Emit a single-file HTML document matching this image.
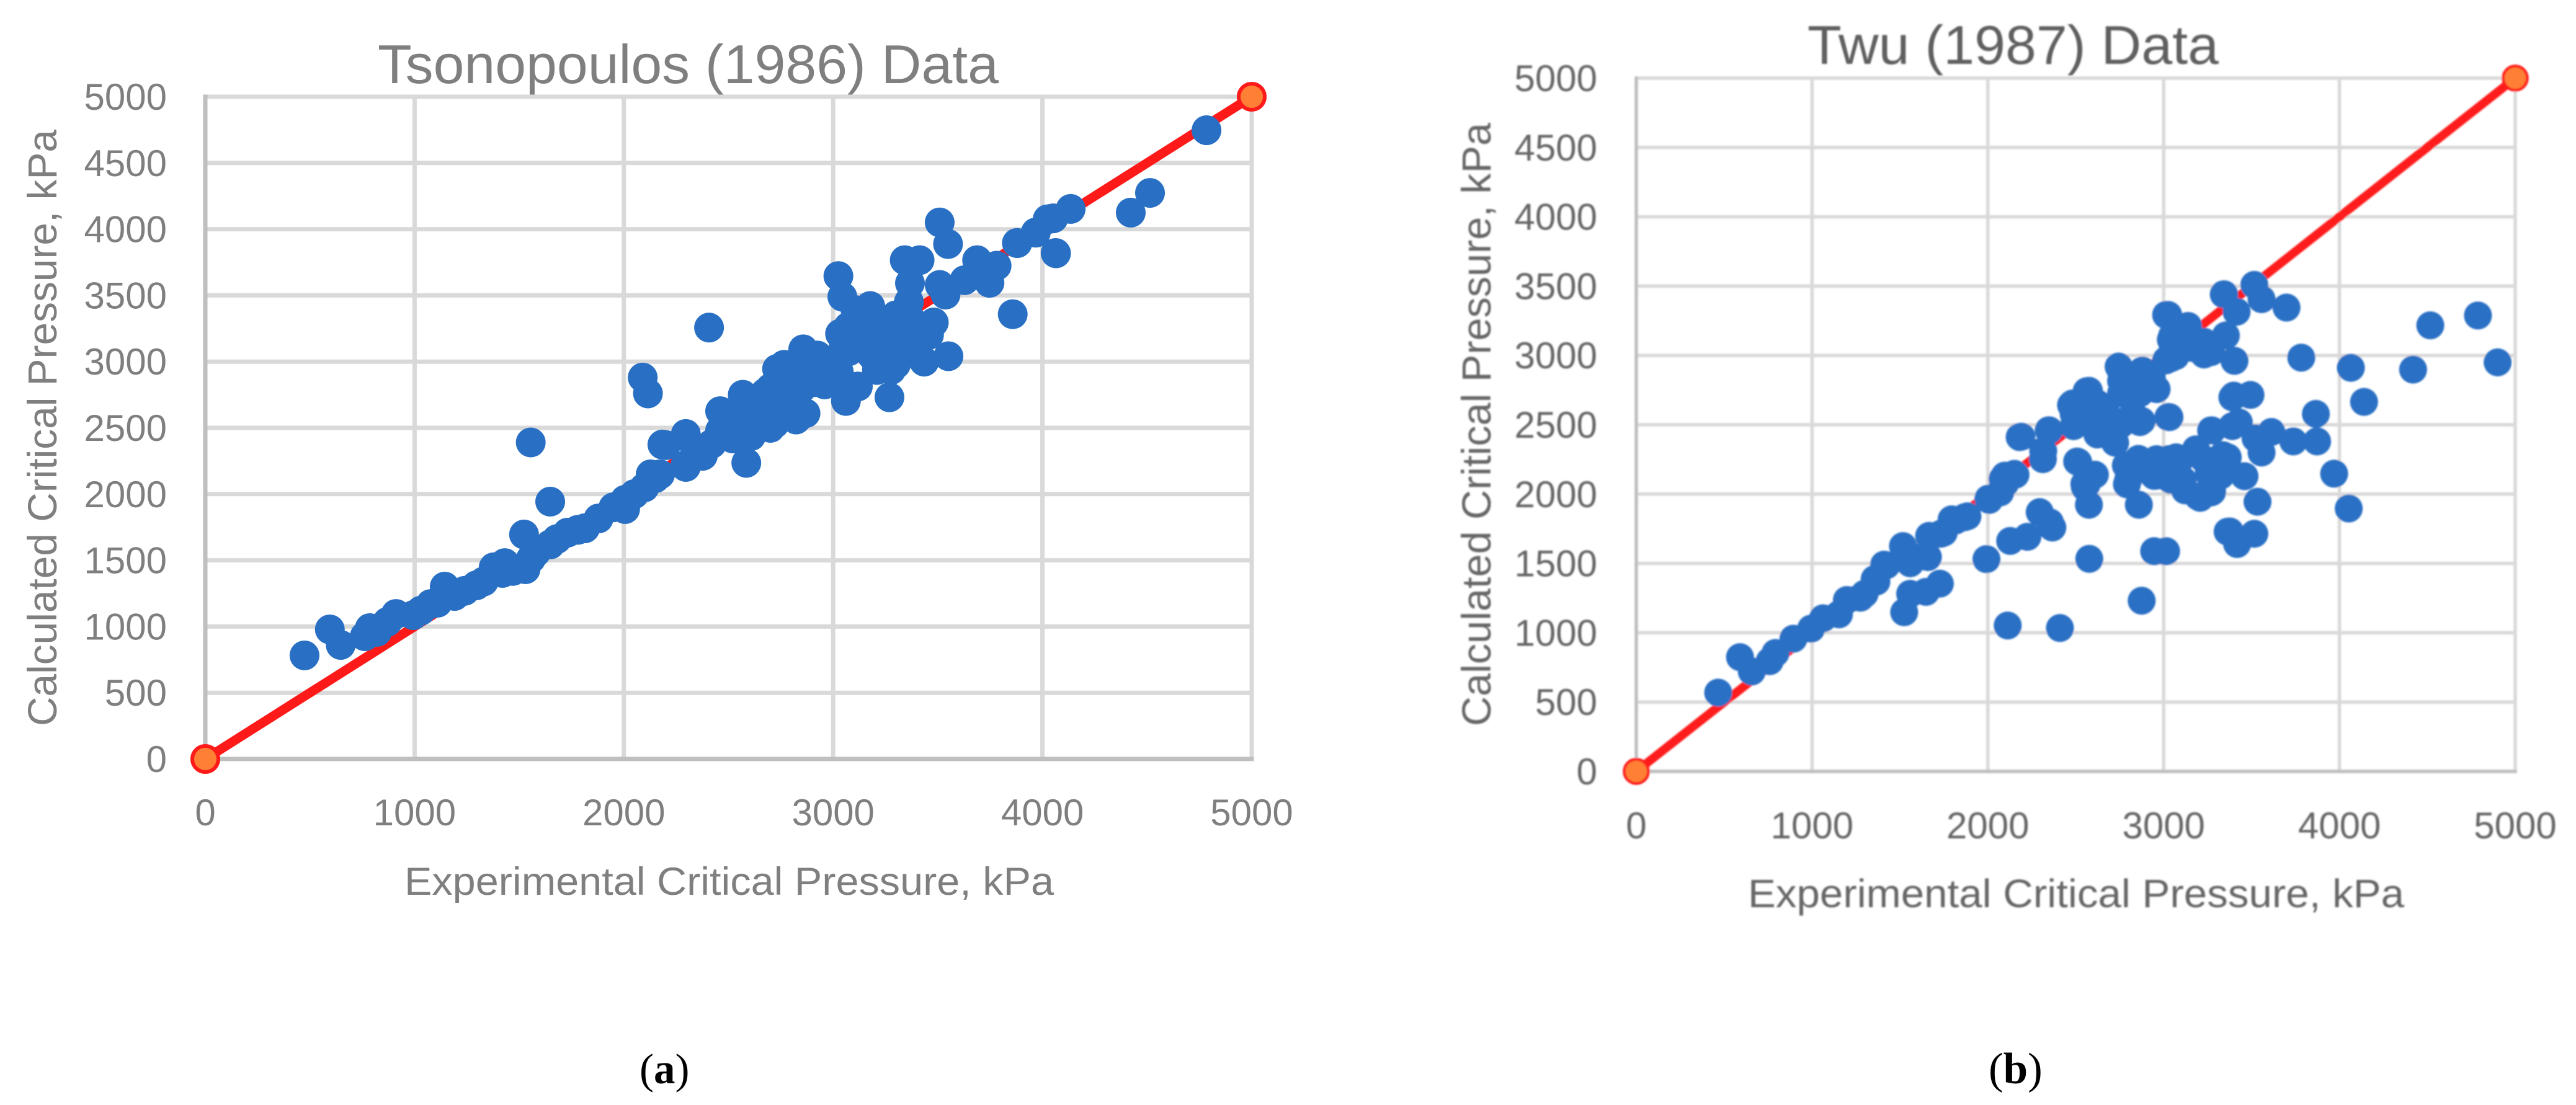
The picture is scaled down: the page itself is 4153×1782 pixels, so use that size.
<!DOCTYPE html>
<html lang="en">
<head>
<meta charset="utf-8">
<title>Calculated vs Experimental Critical Pressure</title>
<style>
html,body{margin:0;padding:0;background:#fff;}
svg{display:block;}
text{font-family:"Liberation Sans",sans-serif;}
</style>
</head>
<body>
<svg id="figure" xmlns="http://www.w3.org/2000/svg" width="4153" height="1782" viewBox="0 0 4153 1782">
  <defs>
    <filter id="soft" x="-5%" y="-5%" width="110%" height="110%"><feGaussianBlur stdDeviation="1.3"/></filter>
  </defs>
  <rect x="0" y="0" width="4153" height="1782" fill="#ffffff"/>

  <g id="panelA">
    <g id="panelA-grid"></g>
    <g id="panelA-marks"></g>
    <g id="panelA-ticks"></g>
    <text x="609" y="134" font-size="88" fill="#7f7f7f" textLength="1001" lengthAdjust="spacingAndGlyphs">Tsonopoulos (1986) Data</text>
    <text x="652" y="1443" font-size="63" fill="#7f7f7f" textLength="1047" lengthAdjust="spacingAndGlyphs">Experimental Critical Pressure, kPa</text>
    <text transform="rotate(-90 91 1171)" x="91" y="1171" font-size="66" fill="#7f7f7f" textLength="962" lengthAdjust="spacingAndGlyphs">Calculated Critical Pressure, kPa</text>
  </g>

  <g id="panelB" filter="url(#soft)">
    <g id="panelB-grid"></g>
    <g id="panelB-marks"></g>
    <g id="panelB-ticks"></g>
    <text x="2914" y="103" font-size="88" fill="#5f5f5f" textLength="663" lengthAdjust="spacingAndGlyphs">Twu (1987) Data</text>
    <text x="2818" y="1463" font-size="64" fill="#666666" textLength="1058" lengthAdjust="spacingAndGlyphs">Experimental Critical Pressure, kPa</text>
    <text transform="rotate(-90 2403 1171)" x="2403" y="1171" font-size="66" fill="#666666" textLength="973" lengthAdjust="spacingAndGlyphs">Calculated Critical Pressure, kPa</text>
  </g>

  <text x="1031" y="1747" style="font-family:'Liberation Serif',serif" font-size="69" fill="#000000">(<tspan font-weight="bold">a</tspan>)</text>
  <text x="3206" y="1747" style="font-family:'Liberation Serif',serif" font-size="71" fill="#000000">(<tspan font-weight="bold">b</tspan>)</text>
</svg>

<script>
// Axis tick values
const xTickValues = [0, 1000, 2000, 3000, 4000, 5000];
const yTickValues = [0, 500, 1000, 1500, 2000, 2500, 3000, 3500, 4000, 4500, 5000];

// Parity (y = x) reference line
const parityX = [0, 5000];
const parityY = [0, 5000];

// Tsonopoulos (1986) data
const tsonoExperimental = [474,595,647,762,786,870,911,994,1077,1144,1191,1295,1378,1420,1431,1523,1530,1556,1648,1648,1731,1814,1879,2006,2006,2090,2115,1555,2407,2098,2128,2173,2184,2294,2294,2377,2460,3509,3549,3342,3413,3688,3781,3878,3968,4025,4065,3858,3747,3628,3509,3537,3367,3362,3025,3044,3177,3107,3254,3367,3481,3458,3033,2857,2925,2766,2732,2738,3435,3551,3277,3209,3061,3118,3027,2959,3269,2568,2642,2494,2460,2585,2608,2721,2823,2868,2375,2296,2296,3129,3243,3356,3186,3073,3005,2868,2789,2676,2732,2619,2506,2562,2676,2789,2902,2823,3186,3299,3073,4135,4052,3968,3880,4063,4422,4514,4784,820,1030,1110,1240,1330,1470,1580,1680,1780,1950,2050,2150,2200,2350,2420,2460,2520,2560,2600,2650,2700,2700,2800,2850,2900,2950,3000,3150,3250,3320,3400,3420,3300,3350,3050,3100,3200,3300];
const tsonoCalculated = [782,978,861,927,988,1035,1095,1086,1170,1301,1231,1311,1447,1405,1479,1695,1433,1512,1620,1943,1709,1742,1816,1887,1957,2880,2760,2390,3257,2050,2149,2149,2374,2434,2219,2289,2626,4051,3888,3766,3766,3766,3724,3896,3974,4075,3818,3358,3595,3615,3579,3506,3592,3451,3646,3490,3420,3389,3296,3327,3296,3202,3210,3093,3046,2976,2945,2828,3000,3041,2937,2937,2703,2812,2921,2828,2731,2750,2727,2602,2469,2236,2438,2532,2563,2610,2298,2205,2454,3171,3140,3155,3046,3077,3015,2968,2875,2766,2688,2610,2485,2532,2610,2688,2844,2844,3233,3233,3264,4153,4082,3975,3895,3820,4125,4274,4747,960,1120,1180,1270,1340,1420,1560,1660,1730,1900,2000,2120,2370,2300,2380,2480,2420,2640,2500,2650,2500,2800,2650,2800,2950,2950,2900,3100,3050,3050,3100,3220,3350,3400,3150,3250,3300,2980];

// Twu (1987) data
const twuExperimental = [466,590,657,759,792,894,995,1062,1153,1198,1299,1366,1423,1524,1558,1659,1670,1749,1817,1884,1992,2008,2098,1524,1558,1648,1727,2113,2410,2875,2577,2946,3014,2127,2225,2295,2353,2367,3364,3418,2575,2562,2603,2508,2859,2791,2859,3054,3196,3270,3122,3188,2946,2151,2084,2003,2070,1868,1794,1666,1733,1517,1639,1558,1410,1356,1275,2181,2346,2313,2097,2562,2481,2744,2879,2960,2865,3027,3014,3041,3135,3041,3270,3344,3391,3391,3270,2724,2623,2677,2555,2488,2758,2825,2865,2549,2798,3027,3189,3351,2960,3108,3256,2892,3516,3557,3342,3415,3699,3354,3026,3783,4065,4419,4517,4788,4900,4140,3403,3230,3049,3049,3139,3399,3494,3866,3873,3738,3613,3557,3428,3523,3275,3033,2875,2755,2575,2473,2191,2349,2315,2514,2609,2552,2157,3970,3460,2857,3071,3184,3365,4053,3534,3516,3377,3415,3276,3208,2825,2933,2758,2623,2758,2623,2690,2488,3162,3229,3068,3014,3162,2960,3095,3229,2785,3041,3324,3337];
const twuCalculated = [568,824,721,795,854,957,1030,1104,1133,1236,1281,1369,1487,1604,1501,1546,1693,1722,1810,1840,1531,1958,2076,1148,1281,1295,1354,1052,1034,1231,1533,1588,1588,1662,1692,1870,1796,1759,1729,1640,1923,2071,2138,2235,1923,2071,2250,2250,1982,2012,2027,2295,2131,2146,2109,1967,2012,1833,1818,1699,1714,1625,1551,1506,1491,1387,1253,2411,2460,2252,2133,2742,2653,2920,2891,2757,2519,2556,3292,3114,3203,2980,3024,3441,2698,2490,2460,2371,2430,2579,2579,2579,2727,2579,2727,2073,2103,2252,2296,2252,2133,2103,2148,2178,3509,3406,3441,3315,3345,3144,3292,2984,2911,2898,3217,3288,2950,2665,2961,3007,3030,3144,3213,2710,2715,2578,2380,2380,2448,2300,2517,2402,2459,2555,2528,2893,2745,2642,2414,2460,2311,2231,2140,2049,2140,2147,2129,2254,2265,2323,2265,1896,1945,1714,1730,1664,2017,1973,2846,2846,2816,2653,2504,2549,2430,2490,3054,3099,2995,2965,3121,2252,2252,2252,2207,2103,2133,2281];

const SVGNS = 'http://www.w3.org/2000/svg';

function svgEl(tag, attrs, parent) {
  const el = document.createElementNS(SVGNS, tag);
  for (const k in attrs) el.setAttribute(k, attrs[k]);
  parent.appendChild(el);
  return el;
}

function drawChart(cfg) {
  const sx = v => cfg.x0 + (v / 5000) * (cfg.x5000 - cfg.x0);
  const sy = v => cfg.y0 - (v / 5000) * (cfg.y0 - cfg.y5000);
  const grid = document.getElementById(cfg.id + '-grid');
  const marks = document.getElementById(cfg.id + '-marks');
  const ticks = document.getElementById(cfg.id + '-ticks');

  yTickValues.forEach(function (v) {
    if (v === 0) return;
    const line = svgEl('line', {x1: sx(0), x2: sx(5000), y1: sy(v), y2: sy(v), stroke: '#d9d9d9', 'stroke-width': cfg.gridW}, grid);
    
    
  });
  xTickValues.forEach(function (v) {
    if (v === 0) return;
    const line = svgEl('line', {x1: sx(v), x2: sx(v), y1: sy(0), y2: sy(5000), stroke: '#d9d9d9', 'stroke-width': cfg.gridW}, grid);
    
    
  });

  const xAxis = svgEl('line', {x1: sx(0) - cfg.gridW / 2, x2: sx(5000) + cfg.gridW / 2, y1: sy(0), y2: sy(0), stroke: '#bfbfbf', 'stroke-width': cfg.gridW}, grid);
  
  
  const yAxis = svgEl('line', {x1: sx(0), x2: sx(0), y1: sy(0), y2: sy(5000) - cfg.gridW / 2, stroke: '#bfbfbf', 'stroke-width': cfg.gridW}, grid);
  
  

  yTickValues.forEach(function (v) {
    const t = svgEl('text', {x: cfg.yTickRight, y: sy(v) + 21, 'font-size': 60, fill: cfg.textColor, 'text-anchor': 'end'}, ticks);
    t.textContent = String(v);
    
    
  });
  xTickValues.forEach(function (v) {
    const t = svgEl('text', {x: sx(v), y: cfg.xTickBase, 'font-size': 60, fill: cfg.textColor, 'text-anchor': 'middle'}, ticks);
    t.textContent = String(v);
    
    
  });

  const parity = svgEl('line', {x1: sx(parityX[0]), y1: sy(parityY[0]), x2: sx(parityX[1]), y2: sy(parityY[1]), stroke: '#ff1a1a', 'stroke-width': cfg.lineW}, marks);
  
  

  parityX.forEach(function (v, i) {
    const end = svgEl('circle', {cx: sx(v), cy: sy(parityY[i]), r: cfg.endR, fill: '#ff7f35', stroke: '#ff1a1a', 'stroke-width': cfg.endW}, marks);
    
    
  });

  cfg.xs.forEach(function (v, i) {
    const pt = svgEl('circle', {cx: sx(v), cy: sy(cfg.ys[i]), r: cfg.r, fill: '#2970c4'}, marks);
    
    
  });
}

drawChart({id: 'panelA', xs: tsonoExperimental, ys: tsonoCalculated,
  x0: 331, x5000: 2018, y0: 1224, y5000: 156,
  gridW: 7, lineW: 15, r: 24, endR: 21, endW: 6,
  yTickRight: 269, xTickBase: 1331, textColor: '#7f7f7f'});

drawChart({id: 'panelB', xs: twuExperimental, ys: twuCalculated,
  x0: 2638, x5000: 4055, y0: 1244, y5000: 126,
  gridW: 5.5, lineW: 14, r: 22.5, endR: 19.5, endW: 4.5,
  yTickRight: 2575, xTickBase: 1352, textColor: '#666666'});
</script>
</body>
</html>
